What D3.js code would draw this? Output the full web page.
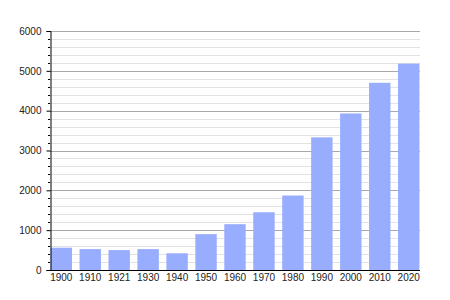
<!DOCTYPE html>
<html>
<head>
<meta charset="utf-8">
<script src="https://cdn.jsdelivr.net/npm/d3@7"></script>
<style>
  body { margin: 0; background: #fff; }
  text { font-family: "Liberation Sans", Arial, sans-serif; }
</style>
</head>
<body>
<div id="chart"></div>
<script>
// population by census year
const years = ['1900', '1910', '1921', '1930', '1940', '1950', '1960', '1970', '1980', '1990', '2000', '2010', '2020'];
const population = [560, 525, 500, 525, 420, 900, 1150, 1450, 1870, 3330, 3930, 4700, 5180];
const yTicks = [0, 1000, 2000, 3000, 4000, 5000, 6000];

const width = 450, height = 300;
const margin = { top: 31, right: 30, bottom: 30, left: 50 };

const svg = d3.select('#chart').append('svg')
    .attr('width', width)
    .attr('height', height);

const x = d3.scaleBand()
    .domain(years)
    .range([margin.left, width - margin.right])
    .paddingInner(0.26)
    .paddingOuter(0.02);

const y = d3.scaleLinear()
    .domain([0, 6000])
    .range([height - margin.bottom, margin.top]);

// minor grid every 200
const minor = d3.range(200, 6001, 200).filter(v => v % 1000 !== 0);
svg.append('g').selectAll('line')
    .data(minor)
    .enter().append('line')
    .attr('x1', margin.left)
    .attr('x2', width - margin.right)
    .attr('y1', d => Math.round(y(d)) + 0.5)
    .attr('y2', d => Math.round(y(d)) + 0.5)
    .attr('stroke', '#e2e2e2');

// major grid
svg.append('g').selectAll('line')
    .data(yTicks.filter(v => v > 0))
    .enter().append('line')
    .attr('x1', margin.left)
    .attr('x2', width - margin.right)
    .attr('y1', d => Math.round(y(d)) + 0.5)
    .attr('y2', d => Math.round(y(d)) + 0.5)
    .attr('stroke', '#a8a8a8');

// bars
svg.append('g').selectAll('rect')
    .data(population)
    .enter().append('rect')
    .attr('x', (d, i) => x(years[i]))
    .attr('y', d => y(d))
    .attr('width', x.bandwidth())
    .attr('height', d => y(0) - y(d))
    .attr('fill', '#99adff');

// minor ticks on the axis
svg.append('g').selectAll('line')
    .data(minor)
    .enter().append('line')
    .attr('x1', margin.left - 2)
    .attr('x2', margin.left)
    .attr('y1', d => Math.round(y(d)) + 0.5)
    .attr('y2', d => Math.round(y(d)) + 0.5)
    .attr('stroke', '#000');

// y axis
const yAxis = svg.append('g')
    .attr('transform', `translate(${margin.left + 0.5},0)`)
    .call(d3.axisLeft(y).tickValues(yTicks).tickSize(4).tickPadding(5).tickFormat(d3.format('d')));
yAxis.select('.domain').attr('stroke', '#000');
yAxis.selectAll('.tick text').attr('font-size', '10px').attr('fill', '#222')
    .attr('font-family', '"Liberation Sans", Arial, sans-serif');

// x axis
const xAxis = svg.append('g')
    .attr('transform', `translate(0,${height - margin.bottom + 0.5})`)
    .call(d3.axisBottom(x).tickSize(0).tickPadding(3));
xAxis.select('.domain').attr('stroke', '#000').attr('d', `M${margin.left},0H${width - margin.right}`);
xAxis.selectAll('.tick text').attr('font-size', '10px').attr('fill', '#222')
    .attr('font-family', '"Liberation Sans", Arial, sans-serif');
</script>
</body>
</html>
